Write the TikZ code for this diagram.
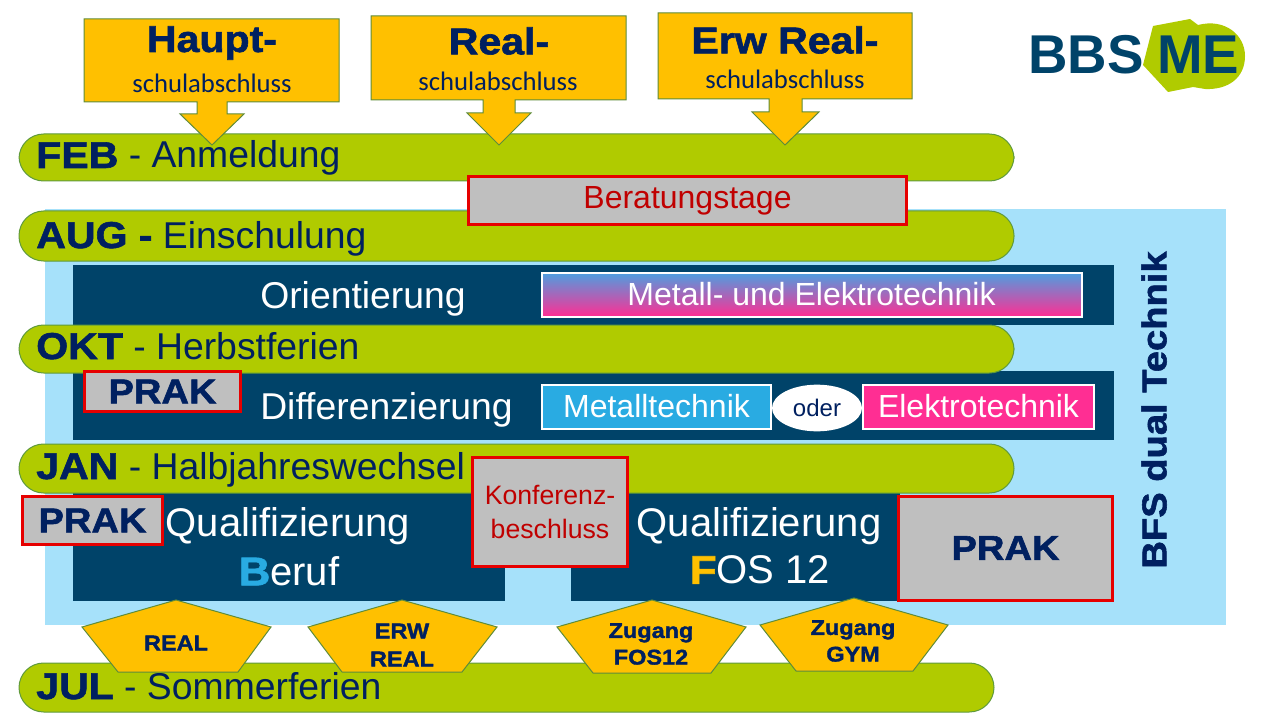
\documentclass[tikz,border=0pt]{standalone}
\usepackage{fontspec}
\usetikzlibrary{shapes.geometric}
\setmainfont{Liberation Sans}
\newfontfamily\heavyfont[FakeBold=1.6,FakeStretch=1.1]{Liberation Sans Bold}
\newfontfamily\calfont{Carlito}
\newcommand{\fs}[1]{\fontsize{#1}{#1}\selectfont}
\definecolor{barGreen}{HTML}{B0CB00}
\definecolor{barEdge}{HTML}{5F9A3C}
\definecolor{panelBlue}{HTML}{004369}
\definecolor{skyBlue}{HTML}{A6E1FA}
\definecolor{textNavy}{HTML}{002060}
\definecolor{callOrange}{HTML}{FFC000}
\definecolor{callEdge}{HTML}{5E8C3A}
\definecolor{tagGray}{HTML}{BFBFBF}
\definecolor{tagRed}{HTML}{E60000}
\definecolor{darkRed}{HTML}{C00000}
\definecolor{metalBlue}{HTML}{29ABE2}
\definecolor{elekPink}{HTML}{FF2E93}
\definecolor{gradBlue}{HTML}{4D9FE0}
\tikzset{
  bar/.style={draw=barEdge, fill=barGreen, line width=0.75pt, rounded corners=18.5pt},
  bartext/.style={anchor=base west, text=textNavy, inner sep=0pt, font=\fs{28}},
  panel/.style={fill=panelBlue},
  paneltext/.style={text=white, align=center, inner sep=0pt, font=\fs{28}},
  call/.style={draw=callEdge, fill=callOrange, line width=0.75pt},
  calltext/.style={text=textNavy, align=center, inner sep=0pt},
  redtag/.style={draw=tagRed, fill=tagGray, line width=2.25pt},
  techbox/.style={draw=white, line width=1.5pt, text=white, inner sep=0pt, font=\fs{24}},
}
\begin{document}
\begin{tikzpicture}[x=0.75pt, y=-0.75pt]
  \useasboundingbox (0, 0) rectangle (1280, 720);
  % background and panels
  \fill [skyBlue] (45, 209) rectangle (1226, 625);
  \fill [panel] (73, 265) rectangle (1114, 325);
  \fill [panel] (73, 371) rectangle (1114, 440);
  \fill [panel] (73, 493) rectangle (505, 601);
  \fill [panel] (571, 493) rectangle (900, 601);
  % month bars
  \draw [bar] (19, 134) rectangle (1014, 181);
  \draw [bar] (19, 211) rectangle (1014, 261);
  \draw [bar] (19, 325) rectangle (1014, 373);
  \draw [bar] (19, 444) rectangle (1014, 493);
  \draw [bar] (19, 663) rectangle (994, 712);
  \node [bartext] (feb) at (36, 168) {{\heavyfont FEB} - Anmeldung};
  \node [bartext] (aug) at (36, 248) {{\heavyfont AUG -} Einschulung};
  \node [bartext] (okt) at (36, 359) {{\heavyfont OKT} - Herbstferien};
  \node [bartext] (jan) at (36, 479) {{\heavyfont JAN} - Halbjahreswechsel};
  \node [bartext] (jul) at (36, 699) {{\heavyfont JUL} - Sommerferien};
  % school leaving callouts
  \draw [call] (84, 19) -- (339, 19) -- (339, 102) -- (227, 102) -- (227, 114) -- (244, 114)
    -- (212, 145) -- (180, 114) -- (197, 114) -- (197, 102) -- (84, 102) -- cycle;
  \draw [call] (371, 16) -- (626, 16) -- (626, 100) -- (515, 100) -- (515, 113) -- (531, 113)
    -- (499, 145) -- (467, 113) -- (483, 113) -- (483, 100) -- (371, 100) -- cycle;
  \draw [call] (658, 13) -- (912, 13) -- (912, 99) -- (802, 99) -- (802, 112) -- (819, 112)
    -- (785, 145) -- (752, 112) -- (769, 112) -- (769, 99) -- (658, 99) -- cycle;
  \node [calltext, font=\heavyfont\fs{28}] (haupt) at (212, 43) {Haupt-};
  \node [calltext, font=\calfont\fs{20}] (hauptsub) at (212, 83) {schulabschluss};
  \node [calltext, font=\heavyfont\fs{28}] (real) at (499, 41) {Real-};
  \node [calltext, font=\calfont\fs{20}] (realsub) at (498, 81) {schulabschluss};
  \node [calltext, font=\heavyfont\fs{28}] (erw) at (785, 40) {Erw Real-};
  \node [calltext, font=\calfont\fs{20}] (erwsub) at (785, 79) {schulabschluss};
  % logo
  \node [anchor=base west, text=panelBlue, inner sep=0pt, font=\bfseries\fs{41}] (bbs) at (1028, 74) {BBS};
  \fill [barGreen] (1143, 65) -- (1153, 26) -- (1190, 19) -- (1198, 25)
    .. controls (1225, 18) and (1245, 35) .. (1245, 56)
    .. controls (1245, 78) and (1228, 90) .. (1205, 89)
    -- (1193, 87) -- (1168, 92) -- cycle;
  \node [anchor=base west, text=panelBlue, inner sep=0pt, font=\bfseries\fs{41}] (me) at (1157, 74) {ME};
  % red tags
  \node [redtag, text=darkRed, minimum width=329pt, minimum height=36pt, inner sep=0pt, font=\fs{24}] (berat) at (687.5, 201) {Beratungstage};
  \node [redtag, text=textNavy, minimum width=117pt, minimum height=30pt, inner sep=0pt, font=\heavyfont\fs{26}] (prakone) at (162.5, 391.5) {PRAK};
  \node [redtag, text=textNavy, minimum width=105pt, minimum height=36pt, inner sep=0pt, font=\heavyfont\fs{26}] (praktwo) at (92.5, 520.5) {PRAK};
  \node [redtag, text=textNavy, minimum width=161pt, minimum height=78pt, inner sep=0pt, font=\heavyfont\fs{26}] (prakthree) at (1005.5, 548) {PRAK};
  \node [redtag, text=darkRed, minimum width=116pt, minimum height=82pt, inner sep=0pt, align=center, font=\fs{20}, execute at begin node={\setlength{\baselineskip}{25pt}}] (konf) at (550, 512) {Konferenz-\\beschluss};
  % panel texts
  \node [paneltext, anchor=base west] (orient) at (260, 308) {Orientierung};
  \node [paneltext, anchor=base west] (diff) at (260, 419) {Differenzierung};
  \node [paneltext, font=\fs{30}, align=center] (qualb) at (288, 526) {Qualifizierung};
  \node [paneltext, font=\fs{30}] (beruf) at (289, 571) {{\heavyfont\color{metalBlue}B}eruf};
  \node [paneltext, font=\fs{30}] (qualf) at (759, 526) {Qualifizierung};
  \node [paneltext, font=\fs{30}] (fos) at (760, 570) {{\heavyfont\color{callOrange}F}OS 12};
  \node [techbox, top color=gradBlue, bottom color=elekPink, minimum width=405pt, minimum height=33pt] (metel) at (811.5, 294.5) {Metall- und Elektrotechnik};
  \node [techbox, fill=metalBlue, minimum width=172pt, minimum height=33pt] (metall) at (656.5, 406.5) {Metalltechnik};
  \node [techbox, fill=elekPink, minimum width=173pt, minimum height=33pt] (elek) at (978.5, 406.5) {Elektrotechnik};
  \node [ellipse, fill=white, text=textNavy, minimum width=67.5pt, minimum height=35pt, inner sep=0pt, font=\fs{18}] (oder) at (817, 408) {oder};
  % exit pentagons
  \draw [call] (176, 600) -- (271, 627) -- (238, 672) -- (118, 672) -- (82, 627) -- cycle;
  \draw [call] (402, 600) -- (497, 627) -- (462, 672) -- (342, 672) -- (308, 627) -- cycle;
  \draw [call] (652, 600) -- (746, 627) -- (711, 673) -- (593, 673) -- (557, 627) -- cycle;
  \draw [call] (854, 598) -- (948, 625) -- (913, 671) -- (796, 671) -- (760, 625) -- cycle;
  \node [calltext, font=\heavyfont\fs{16}] (exreal) at (176, 643) {REAL};
  \node [calltext, font=\heavyfont\fs{16}, execute at begin node={\setlength{\baselineskip}{21pt}}] (exerw) at (402, 645) {ERW\\REAL};
  \node [calltext, font=\heavyfont\fs{16}, execute at begin node={\setlength{\baselineskip}{20pt}}] (exfos) at (651, 644) {Zugang\\FOS12};
  \node [calltext, font=\heavyfont\fs{16}, execute at begin node={\setlength{\baselineskip}{20pt}}] (exgym) at (853, 641) {Zugang\\GYM};
  % side label
  \node [rotate=90, text=textNavy, inner sep=0pt, font=\heavyfont\fs{26}] (bfs) at (1154, 410) {BFS dual Technik};
\end{tikzpicture}
\end{document}
